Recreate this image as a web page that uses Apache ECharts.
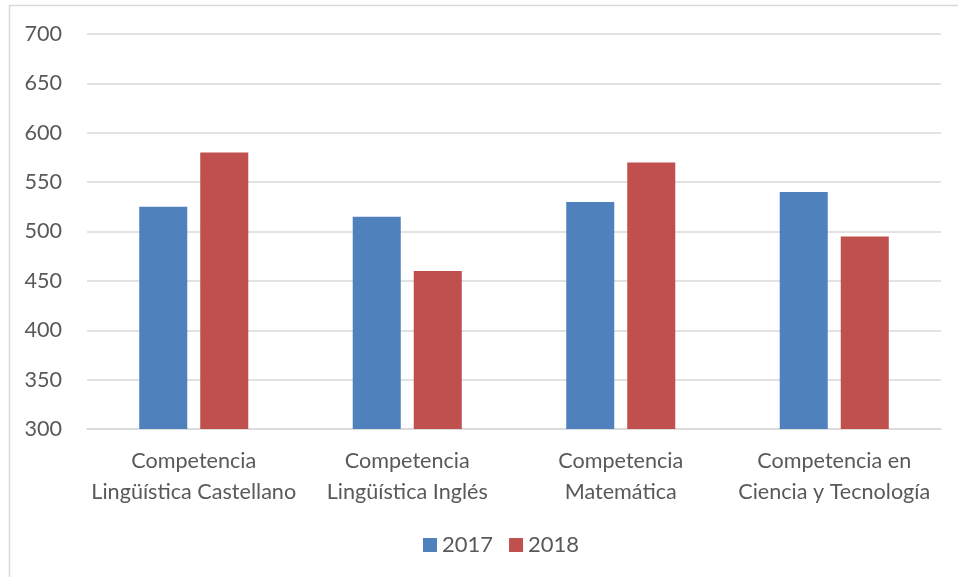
<!DOCTYPE html>
<html>
<head>
<meta charset="utf-8">
<script src="https://cdn.jsdelivr.net/npm/echarts@6/dist/echarts.min.js"></script>
<style>
  html, body { margin: 0; padding: 0; background: #fff; }
  #chart { width: 958px; height: 577px; }
</style>
</head>
<body>
<div id="chart"></div>
<script>
const categories = [
  "Competencia\nLingüística Castellano",
  "Competencia\nLingüística Inglés",
  "Competencia\nMatemática",
  "Competencia en\nCiencia y Tecnología"
];
const values2017 = [525, 515, 530, 540];
const values2018 = [580, 460, 570, 495];
const seriesNames = ["2017", "2018"];

const chart = echarts.init(document.getElementById("chart"));
const font = "Lato, 'Open Sans', sans-serif";

chart.setOption({
  animation: false,
  textStyle: { fontFamily: font },
  graphic: [
    {
      type: "rect",
      shape: { x: 9.5, y: 5.5, width: 1000, height: 700 },
      style: { fill: null, stroke: "#d9d9d9", lineWidth: 1.5 },
      silent: true
    }
  ],
  grid: { left: 87, right: 17, top: 34, bottom: 148 },
  legend: {
    top: 529,
    left: 418,
    itemWidth: 14,
    itemHeight: 14,
    itemGap: 16,
    icon: "rect",
    textStyle: { color: "#595959", fontSize: 22, fontFamily: font }
  },
  xAxis: {
    type: "category",
    data: categories,
    axisLine: { lineStyle: { color: "#d9d9d9", width: 1.5 } },
    axisTick: { show: false },
    axisLabel: {
      color: "#595959",
      fontSize: 21.6,
      lineHeight: 31,
      margin: 17,
      interval: 0,
      fontFamily: font
    }
  },
  yAxis: {
    type: "value",
    min: 300,
    max: 700,
    interval: 50,
    axisLine: { show: false },
    axisTick: { show: false },
    splitLine: { lineStyle: { color: "#d9d9d9", width: 1.5 } },
    axisLabel: { color: "#595959", fontSize: 21.6, margin: 25, fontFamily: font }
  },
  series: [
    {
      name: seriesNames[0],
      type: "bar",
      data: values2017,
      barWidth: "22.5%",
      barGap: "27%",
      itemStyle: { color: "#4F81BD" }
    },
    {
      name: seriesNames[1],
      type: "bar",
      data: values2018,
      barWidth: "22.5%",
      itemStyle: { color: "#C0504D" }
    }
  ]
});
</script>
</body>
</html>
